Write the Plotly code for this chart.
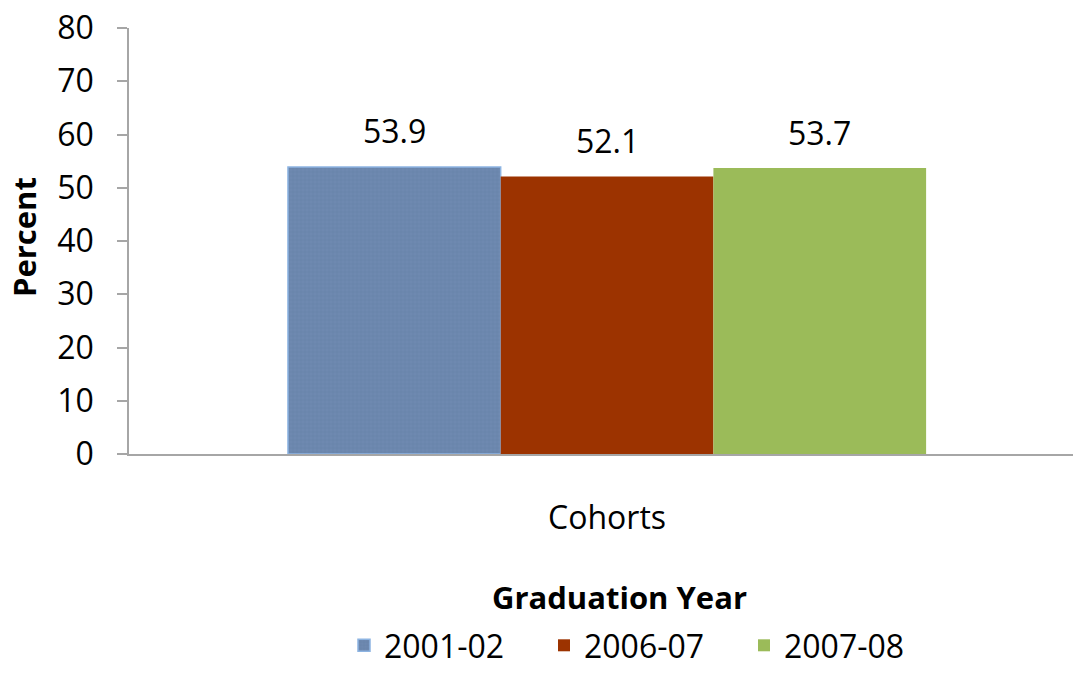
import plotly.graph_objects as go

categories = ["Cohorts"]
series_names = ["2001-02", "2006-07", "2007-08"]
series_values = [[53.9], [52.1], [53.7]]
colors = ["#6A86AC", "#9C3300", "#9BBB59"]
y_ticks = [0, 10, 20, 30, 40, 50, 60, 70, 80]

FONT = "Open Sans, sans-serif"
FS = 32
FSB = 31

W, H = 1073, 673
ML, MR, MT, MB = 129, 0, 28, 673 - 454
plot_w = W - ML - MR
plot_h = H - MT - MB
x_range = [-0.5064, 0.4936]
bargap = 0.324
bar_px = (1 - bargap) / len(series_names) * plot_w / (x_range[1] - x_range[0])

fig = go.Figure()
for i, (name, vals) in enumerate(zip(series_names, series_values)):
    marker = dict(color=colors[i], line=dict(width=0))
    if i == 0:
        marker = dict(color=colors[i], line=dict(color="#8DB4E2", width=1.5),
                      pattern=dict(shape="+", size=4, solidity=0.15, fgcolor="#7F9AC0", fillmode="overlay"))
    fig.add_trace(go.Bar(x=categories, y=vals, name=name, marker=marker))

annotations = []
for i, vals in enumerate(series_values):
    for c, v in zip(categories, vals):
        annotations.append(dict(
            x=c, y=v, xref="x", yref="y", text=f"{v:.1f}", showarrow=False,
            xshift=(i - (len(series_names) - 1) / 2) * bar_px, yshift=36,
            xanchor="center", yanchor="middle",
            font=dict(size=FS, family=FONT, color="#000000")))


def px_to_paper(px, py):
    return (px - ML) / plot_w, (H - MB - py) / plot_h


ax, ay = px_to_paper(24, 237)
annotations.append(dict(text="<b>Percent</b>", x=ax, y=ay, xref="paper", yref="paper",
                        showarrow=False, textangle=-90, xanchor="center", yanchor="middle",
                        font=dict(size=FSB, family=FONT, color="#000000")))
gx, gy = px_to_paper(619, 597)
annotations.append(dict(text="<b>Graduation Year</b>", x=gx, y=gy, xref="paper", yref="paper",
                        showarrow=False, xanchor="center", yanchor="middle",
                        font=dict(size=FSB, family=FONT, color="#000000")))
lx, _ = px_to_paper(344, 0)
_, ly = px_to_paper(0, 673)

fig.update_layout(
    width=W, height=H,
    margin=dict(l=ML, r=MR, t=MT, b=MB, autoexpand=False),
    paper_bgcolor="white", plot_bgcolor="white",
    barmode="group", bargap=bargap, bargroupgap=0,
    font=dict(family=FONT, size=FS, color="#000000"),
    showlegend=True,
    legend=dict(orientation="h", x=lx, xanchor="left", y=ly, yanchor="bottom",
                font=dict(size=FS, family=FONT), itemwidth=30, traceorder="normal",
                entrywidth=155, entrywidthmode="pixels", borderwidth=0),
    xaxis=dict(range=x_range, showline=True, linecolor="#A6A6A6", linewidth=1.5,
               ticks="", ticklabelstandoff=35, tickfont=dict(size=FS, family=FONT),
               showgrid=False, zeroline=False),
    yaxis=dict(range=[0, 80], tickvals=y_ticks, showline=True, linecolor="#A6A6A6", linewidth=1.5,
               ticks="outside", ticklen=10, tickcolor="#A6A6A6", tickwidth=1.5,
               tickfont=dict(size=FS, family=FONT), showgrid=False, zeroline=False,
               ticklabelstandoff=17, ticklabeloverflow="allow"),
    annotations=annotations,
)

fig.write_html("out.html", config={"displayModeBar": False},
               post_script="document.body.style.margin='0';document.body.style.overflow='hidden';")
